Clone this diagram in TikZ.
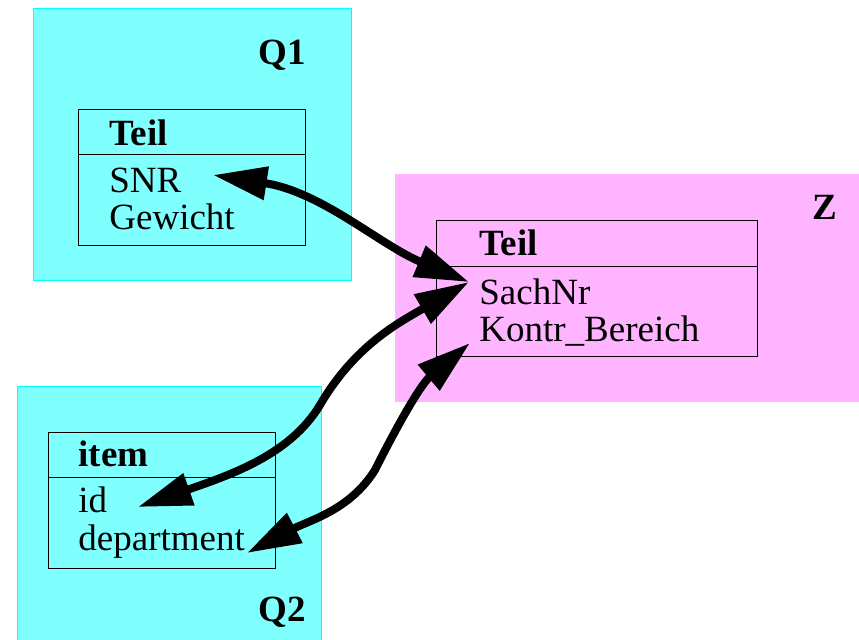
\documentclass[tikz,border=0pt]{standalone}
\usepackage{fontspec}
\setmainfont{Liberation Serif}
\usetikzlibrary{arrows.meta}
\definecolor{srcfill}{RGB}{128,255,255}
\definecolor{srcline}{RGB}{0,255,255}
\definecolor{tgtfill}{RGB}{255,180,255}
\tikzset{
  schema/.style={fill=srcfill,draw=srcline,line width=0.5pt},
  target/.style={fill=tgtfill,draw=tgtfill,line width=0.5pt},
  classbox/.style={draw=black,line width=0.5pt},
  attr/.style={anchor=base west,inner sep=0pt,font=\fontsize{18.5}{22}\selectfont},
  cname/.style={attr,font=\fontsize{18.5}{22}\selectfont\bfseries},
  link/.style={line width=4pt,
    {Triangle[length=27pt,width=16pt]}-{Triangle[length=27pt,width=16pt]}}
}
\begin{document}
\begin{tikzpicture}[x=0.5pt,y=-0.5pt]
\useasboundingbox (0,0) rectangle (859,640);

% source schema Q1
\fill[schema] (33,9) rectangle (351,281);
\node[cname] (q1) at (258,65) {Q1};
\draw[classbox] (78,110) rectangle (305,246);
\draw[classbox] (78,155) -- (305,155);
\node[cname] (teilA) at (109,146) {Teil};
\node[attr] (snr) at (109,193) {SNR};
\node[attr] (gew) at (109,230) {Gewicht};

% target schema Z
\fill[target] (395,175) rectangle (858,402);
\node[cname] (z) at (812,220) {Z};
\draw[classbox] (436,221) rectangle (757,357);
\draw[classbox] (436,267) -- (757,267);
\node[cname] (teilZ) at (479,256) {Teil};
\node[attr] (sachnr) at (479,305) {SachNr};
\node[attr] (kontr) at (479,342) {Kontr\_Bereich};

% source schema Q2
\fill[schema] (17,387) rectangle (321,648);
\node[cname] (q2) at (258,622) {Q2};
\draw[classbox] (48,433) rectangle (275,569);
\draw[classbox] (48,478) -- (275,478);
\node[cname] (item) at (78,467) {item};
\node[attr] (id) at (78,513) {id};
\node[attr] (dept) at (78,551) {department};

% end points of the correspondences
\coordinate (snrTip) at (213,175);
\coordinate (sachTip) at (469,282);
\coordinate (kontrTip) at (470,343);
\coordinate (idTip) at (138,507);
\coordinate (deptTip) at (247,553);

% correspondences
\draw[link] (snrTip) .. controls (322,192) and (380,245) .. (sachTip);
\draw[link] (sachTip) .. controls (400,322) and (355,345) .. (320,405)
                      .. controls (290,455) and (230,475) .. (idTip);
\draw[link] (deptTip) .. controls (310,520) and (350,510) .. (375,470)
                      .. controls (395,430) and (420,385) .. (kontrTip);
\end{tikzpicture}
\end{document}
